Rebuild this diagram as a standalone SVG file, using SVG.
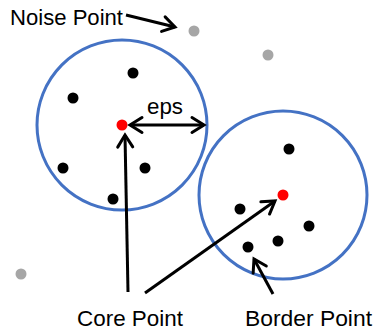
<svg xmlns="http://www.w3.org/2000/svg" width="374" height="331" viewBox="0 0 374 331">
  <style>
    .label { font-family: "Liberation Sans", Arial, sans-serif; font-size: 21.5px; fill: #000; }
    .eps { stroke: #4472C4; stroke-width: 3; fill: none; }
    .pt { fill: #000; }
    .core { fill: #FF0000; }
    .noise { fill: #A6A6A6; }
    .link { stroke: #000; stroke-width: 3; fill: none; }
  </style>
  <defs>
    <marker id="head" markerUnits="userSpaceOnUse" markerWidth="20" markerHeight="20" viewBox="-14 -10 18 20" refX="0" refY="0" orient="auto-start-reverse">
      <path d="M -12 -7.5 L 0 0 L -12 7.5" fill="none" stroke="#000" stroke-width="3" stroke-linecap="round" stroke-linejoin="miter"/>
    </marker>
  </defs>

  <!-- neighbourhood circles -->
  <g id="cluster-left">
    <circle class="eps" cx="122" cy="125" r="85"/>
    <circle class="pt" cx="133" cy="73" r="5.5"/>
    <circle class="pt" cx="73" cy="98" r="5.5"/>
    <circle class="pt" cx="63" cy="168" r="5.5"/>
    <circle class="pt" cx="145" cy="168" r="5.5"/>
    <circle class="pt" cx="113" cy="199" r="5.5"/>
    <circle class="core" cx="122" cy="125" r="5.5"/>
  </g>
  <g id="cluster-right">
    <circle class="eps" cx="283" cy="195" r="84"/>
    <circle class="pt" cx="289" cy="149" r="5.5"/>
    <circle class="pt" cx="240" cy="209" r="5.5"/>
    <circle class="pt" cx="309" cy="226" r="5.5"/>
    <circle class="pt" cx="278" cy="241" r="5.5"/>
    <circle class="pt" cx="248" cy="247" r="5.5"/>
    <circle class="core" cx="283" cy="195" r="5.5"/>
  </g>
  <g id="noise-points">
    <circle class="noise" cx="194" cy="31" r="5.5"/>
    <circle class="noise" cx="268" cy="55" r="5.5"/>
    <circle class="noise" cx="21" cy="274" r="5.5"/>
  </g>

  <!-- labels -->
  <g id="label-noise"><text class="label" x="10" y="25" textLength="113" lengthAdjust="spacingAndGlyphs">Noise Point</text></g>
  <g id="label-eps"><text class="label" x="147" y="114" textLength="36" lengthAdjust="spacingAndGlyphs">eps</text></g>
  <g id="label-core"><text class="label" x="77" y="326" textLength="106" lengthAdjust="spacingAndGlyphs">Core Point</text></g>
  <g id="label-border"><text class="label" x="245" y="326" textLength="127" lengthAdjust="spacingAndGlyphs">Border Point</text></g>

  <!-- connectors -->
  <g id="connectors">
    <line class="link" x1="126" y1="15" x2="175" y2="27" marker-end="url(#head)"/>
    <line class="link" x1="130" y1="125" x2="204" y2="125" marker-start="url(#head)" marker-end="url(#head)"/>
    <line class="link" x1="128" y1="292" x2="125" y2="135" marker-end="url(#head)"/>
    <line class="link" x1="145" y1="293" x2="275" y2="201" marker-end="url(#head)"/>
    <line class="link" x1="273" y1="294" x2="254" y2="259" marker-end="url(#head)"/>
  </g>
</svg>
